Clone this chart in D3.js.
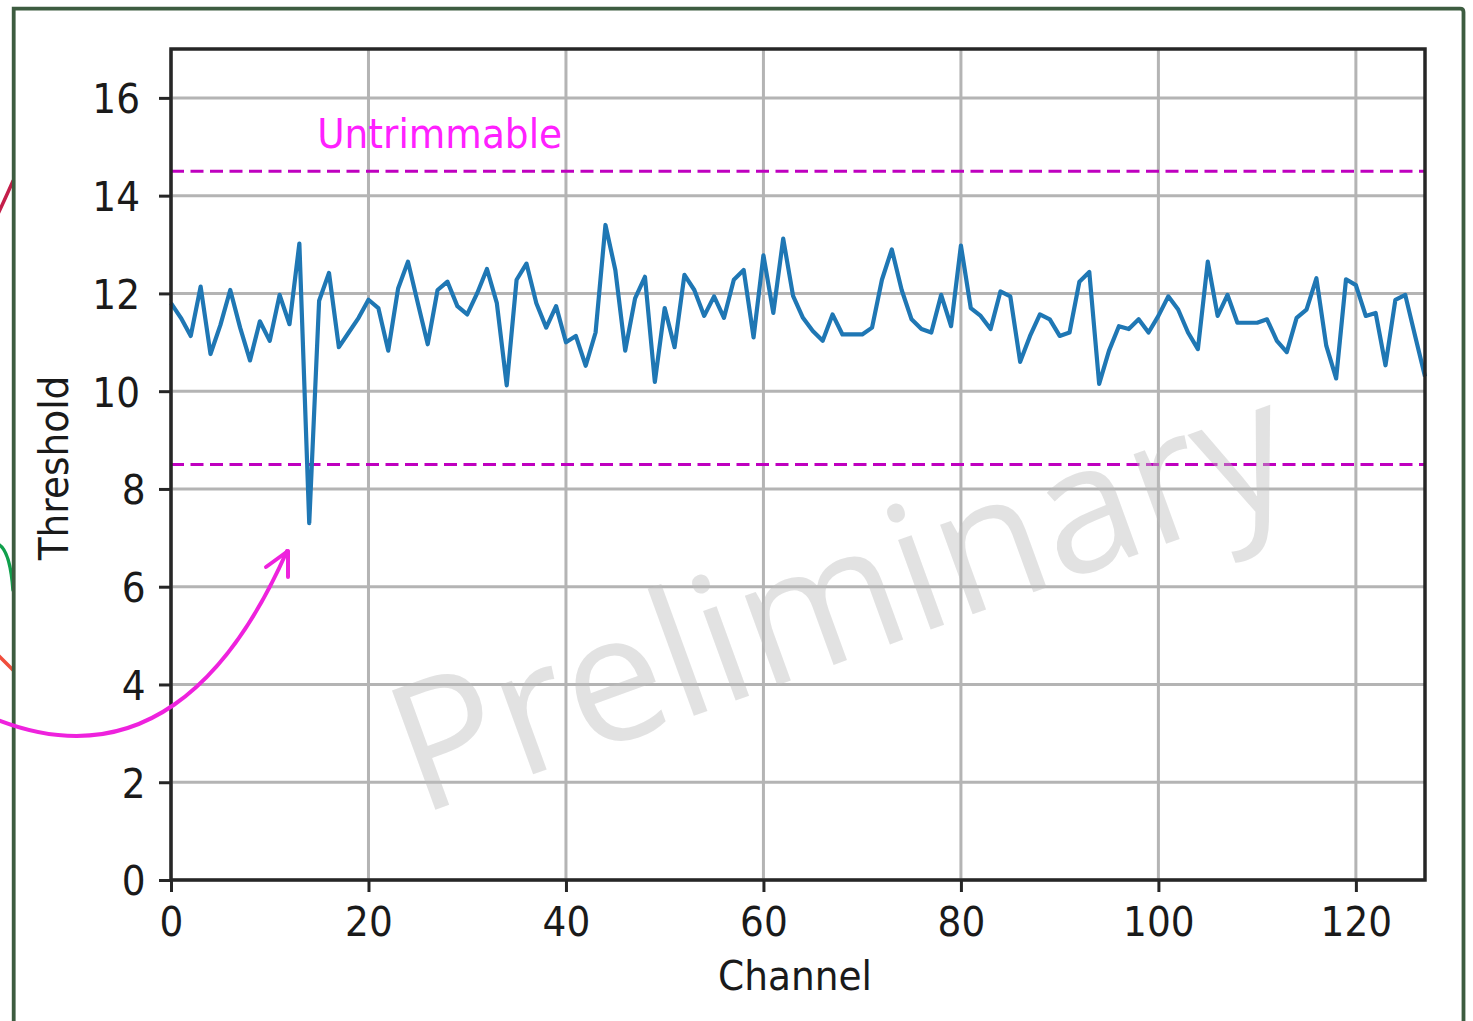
<!DOCTYPE html>
<html>
<head>
<meta charset="utf-8">
<script src="https://cdn.jsdelivr.net/npm/d3@7"></script>
<style>
  html, body { margin: 0; padding: 0; background: #fff; }
  svg { display: block; }
  text { font-family: "DejaVu Sans", sans-serif; fill: #1a1a1a; }
  .stretch { transform-box: fill-box; transform-origin: center; transform: scaleY(1.1); }
</style>
</head>
<body>
<svg id="chart" width="1473" height="1021"></svg>
<script>
// Per-channel threshold readings (channel = array index)
const thresholds = [
  11.8, 11.5, 11.13, 12.14, 10.76, 11.35, 12.07, 11.3, 10.63, 11.43,
  11.03, 11.97, 11.37, 13.02, 7.3, 11.85, 12.42, 10.9, 11.2, 11.5,
  11.87, 11.7, 10.83, 12.1, 12.65, 11.8, 10.96, 12.07, 12.24, 11.74,
  11.57, 12.0, 12.5, 11.8, 10.12, 12.28, 12.61, 11.8, 11.3, 11.74,
  11.0, 11.13, 10.52, 11.2, 13.4, 12.48, 10.83, 11.9, 12.34, 10.19,
  11.7, 10.9, 12.38, 12.07, 11.54, 11.94, 11.5, 12.28, 12.48, 11.1,
  12.78, 11.6, 13.12, 11.95, 11.5, 11.23, 11.03, 11.57, 11.16, 11.16,
  11.16, 11.3, 12.28, 12.9, 12.07, 11.47, 11.27, 11.2, 11.97, 11.33,
  12.98, 11.7, 11.54, 11.27, 12.04, 11.94, 10.6, 11.13, 11.57, 11.47,
  11.13, 11.2, 12.24, 12.44, 10.15, 10.83, 11.33, 11.27, 11.47, 11.2,
  11.54, 11.94, 11.67, 11.2, 10.86, 12.65, 11.54, 11.97, 11.4, 11.4,
  11.4, 11.47, 11.03, 10.8, 11.5, 11.67, 12.31, 10.93, 10.26, 12.29,
  12.17, 11.54, 11.6, 10.53, 11.87, 11.97, 11.13, 10.3
];

const xTicks = [0, 20, 40, 60, 80, 100, 120];
const yTicks = [0, 2, 4, 6, 8, 10, 12, 14, 16];
const trimLimits = [8.5, 14.5];          // lower / upper trim range
const limitLabel = "Untrimmable";
const limitLabelAt = [14.8, 15.0];       // data coords of the label
const xLabel = "Channel";
const yLabel = "Threshold";
const watermark = "Preliminary";

const svg = d3.select("#chart");
const plotLeft = 171, plotRight = 1425, plotTop = 49, plotBottom = 880;

const x = d3.scaleLinear().domain([0, 127]).range([plotLeft, plotRight]);
const y = d3.scaleLinear().domain([0, 17]).range([plotBottom, plotTop]);

// ---- annotation strokes entering from the left edge (behind the frame)
const deco = svg.append("g").attr("fill", "none").attr("stroke-linecap", "round");
deco.append("path").attr("d", "M-2,214 Q5,199 13,181").attr("stroke", "#c41e4a").attr("stroke-width", 3.5);
deco.append("path").attr("d", "M-2,544 Q10,550 13,590").attr("stroke", "#10a04c").attr("stroke-width", 3.5);
deco.append("path").attr("d", "M-2,655 L13,670").attr("stroke", "#f04e3c").attr("stroke-width", 3.5);

// ---- outer frame
svg.append("path")
  .attr("d", "M13.7,1030 L13.7,8.7 L1460,8.7 Q1463.5,8.7 1463.5,12 L1463.5,1030")
  .attr("fill", "none").attr("stroke", "#3d5c40").attr("stroke-width", 3.8);

// ---- grid
const grid = svg.append("g").attr("stroke", "#b4b4b4").attr("stroke-width", 3);
grid.selectAll(".gx").data(xTicks).join("line").attr("class", "gx")
  .attr("x1", d => x(d)).attr("x2", d => x(d)).attr("y1", plotTop).attr("y2", plotBottom);
grid.selectAll(".gy").data(yTicks).join("line").attr("class", "gy")
  .attr("x1", plotLeft).attr("x2", plotRight).attr("y1", d => y(d)).attr("y2", d => y(d));

// ---- trim limits
svg.append("g").selectAll("line").data(trimLimits).join("line")
  .attr("x1", plotLeft).attr("x2", plotRight)
  .attr("y1", d => y(d)).attr("y2", d => y(d))
  .attr("stroke", "#bf00bf").attr("stroke-width", 3)
  .attr("stroke-dasharray", "13,6.5");

svg.append("text")
  .attr("class", "stretch")
  .attr("x", x(limitLabelAt[0])).attr("y", y(limitLabelAt[1]))
  .style("fill", "#ff20ff").style("font-size", "37.5px")
  .text(limitLabel);

// ---- threshold trace
const line = d3.line().x((d, i) => x(i)).y(d => y(d));
svg.append("path").datum(thresholds)
  .attr("d", line)
  .attr("fill", "none").attr("stroke", "#1f77b4")
  .attr("stroke-width", 4.2).attr("stroke-linejoin", "round");

// ---- axes
const yAxis = svg.append("g").attr("transform", `translate(${plotLeft},0)`)
  .call(d3.axisLeft(y).tickValues(yTicks).tickSize(12).tickPadding(17));
const xAxis = svg.append("g").attr("transform", `translate(0,${plotBottom})`)
  .call(d3.axisBottom(x).tickValues(xTicks).tickSize(12));

[yAxis, xAxis].forEach(g => {
  g.select(".domain").remove();
  g.selectAll(".tick line").attr("stroke", "#262626").attr("stroke-width", 3);
  g.selectAll(".tick text").attr("class", "stretch")
    .style("font-size", "37.5px").style("fill", "#1a1a1a");
});
yAxis.selectAll(".tick text")
  .attr("dy", "0.36em")
  .attr("x", d => String(d).length > 1 ? -31 : -25.5);
xAxis.selectAll(".tick text").attr("y", 55).attr("dy", 0);

// spines
svg.append("rect")
  .attr("x", plotLeft).attr("y", plotTop)
  .attr("width", plotRight - plotLeft).attr("height", plotBottom - plotTop)
  .attr("fill", "none").attr("stroke", "#262626").attr("stroke-width", 3.5);

// axis titles
svg.append("text").attr("class", "stretch")
  .attr("x", (plotLeft + plotRight) / 2 - 3).attr("y", 989)
  .attr("text-anchor", "middle").style("font-size", "37.5px")
  .text(xLabel);
svg.append("text")
  .attr("transform", "translate(68,468) rotate(-90) scale(1,1.1)")
  .attr("text-anchor", "middle").style("font-size", "37.5px")
  .text(yLabel);

// ---- watermark
svg.append("text")
  .attr("transform", "translate(861,655) rotate(-20)")
  .attr("text-anchor", "middle")
  .attr("textLength", 940).attr("lengthAdjust", "spacingAndGlyphs")
  .style("font-family", "'Open Sans', sans-serif")
  .style("font-size", "178px")
  .style("fill", "#bcbcbc").style("fill-opacity", 0.44)
  .text(watermark);

// ---- callout arrow pointing at the low channel
const arrow = svg.append("g").attr("fill", "none").attr("stroke", "#ee22dd")
  .attr("stroke-width", 4).attr("stroke-linecap", "round").attr("stroke-linejoin", "round");
arrow.append("path").attr("d", "M-2,720 C140,775 230,680 287,551");
arrow.append("path").attr("d", "M266,567 L288,551 L288,577");
</script>
</body>
</html>
